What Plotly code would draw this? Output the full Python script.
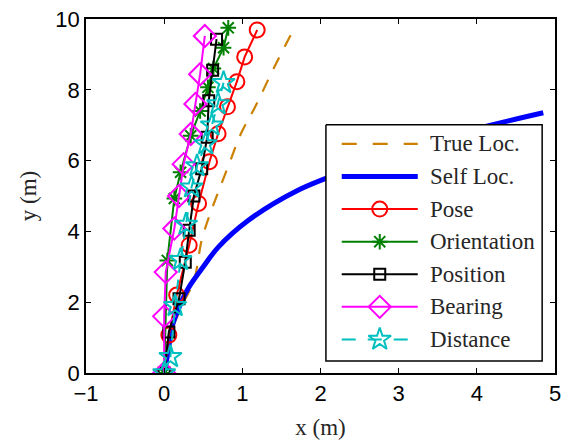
import plotly.graph_objects as go

# Ground truth trajectory
true_x = [0.0, 0.10, 0.25, 0.38, 0.48, 0.58, 0.69, 0.83, 0.98, 1.16, 1.40, 1.66]
true_y = [0.0, 1.20, 2.00, 2.60, 3.75, 4.45, 5.10, 5.90, 6.75, 7.50, 8.60, 9.72]

# Self-localisation estimate
self_x = [0.0, 0.05, 0.10, 0.20, 0.31, 0.50, 0.69, 1.07, 1.70, 2.50, 3.30, 4.00, 4.85]
self_y = [0.0, 0.60, 1.30, 1.90, 2.40, 3.00, 3.55, 4.30, 5.15, 5.85, 6.45, 6.90, 7.35]

# Cooperative estimates by measurement type
pose_x = [0.0, 0.06, 0.16, 0.32, 0.44, 0.58, 0.69, 0.81, 0.93, 1.03, 1.19]
pose_y = [0.0, 1.07, 2.20, 3.61, 4.79, 5.97, 6.76, 7.52, 8.23, 8.93, 9.69]

orient_x = [0.0, 0.04, 0.13, 0.21, 0.34, 0.46, 0.56, 0.63, 0.76, 0.82]
orient_y = [0.0, 3.18, 4.93, 5.67, 6.70, 7.40, 8.07, 8.60, 9.19, 9.75]

posn_x = [0.0, 0.06, 0.19, 0.27, 0.32, 0.38, 0.48, 0.55, 0.57, 0.62, 0.67]
posn_y = [0.0, 1.16, 2.10, 3.13, 4.03, 5.00, 5.77, 6.66, 7.69, 8.55, 9.43]

bear_x = [0.0, 0.0, 0.02, 0.13, 0.19, 0.25, 0.34, 0.40, 0.46, 0.52]
bear_y = [0.0, 1.60, 2.85, 4.08, 5.00, 5.90, 6.75, 7.60, 8.44, 9.52]

dist_x = [0.0, 0.08, 0.14, 0.21, 0.28, 0.35, 0.42, 0.53, 0.61, 0.69, 0.76]
dist_y = [0.0, 0.46, 1.90, 3.20, 4.20, 5.25, 5.85, 6.47, 7.00, 7.60, 8.20]

x_ticks = [-1, 0, 1, 2, 3, 4, 5]
y_ticks = [0, 2, 4, 6, 8, 10]

# Plot area in pixels (figure 568 x 447)
W, H = 568, 447
L, R, T, B = 86, 7, 18, 74
PW, PH = W - L - R, H - T - B


def fx(px):
    return (px - L) / PW


def fy(py):
    return (H - B - py) / PH


# (name, x, y, colour, line width, dash, marker symbol, marker size)
series = [
    ("True Loc.", true_x, true_y, "#CC8000", 2.2, "13px,12px", None, 0),
    ("Self Loc.", self_x, self_y, "#0000FF", 5, "solid", None, 0),
    ("Pose", pose_x, pose_y, "#FF0000", 2, "solid", "circle-open", 15),
    ("Orientation", orient_x, orient_y, "#008000", 2, "solid", "asterisk-open", 13),
    ("Position", posn_x, posn_y, "#000000", 2, "solid", "square-open", 11),
    ("Bearing", bear_x, bear_y, "#FF00FF", 2, "solid", "diamond-open", 17),
    ("Distance", dist_x, dist_y, "#00BFBF", 2, "10px,7px", "star-open", 17),
]

fig = go.Figure()

for name, xs, ys, col, lw, dash, sym, size in series:
    if sym is None:
        fig.add_trace(go.Scatter(x=xs, y=ys, mode="lines", name=name, showlegend=False,
                                 line=dict(color=col, width=lw, dash=dash),
                                 line_shape="spline"))
    else:
        fig.add_trace(go.Scatter(
            x=xs, y=ys, mode="lines+markers", name=name, showlegend=False,
            line=dict(color=col, width=lw, dash=dash),
            marker=dict(symbol=sym, size=size, color=col, line=dict(color=col, width=2))))

# Legend drawn on an overlay axis spanning the plot area in [0, 1] units
box_l, box_r, box_t, box_b = 329, 548, 124, 361
fig.add_trace(go.Scatter(
    x=[fx(box_l), fx(box_r), fx(box_r), fx(box_l), fx(box_l)],
    y=[fy(box_t), fy(box_t), fy(box_b), fy(box_b), fy(box_t)],
    mode="lines", fill="toself", fillcolor="white",
    line=dict(color="black", width=1.5), xaxis="x2", yaxis="y2",
    showlegend=False, hoverinfo="skip"))

row0, row_step = 143.3, 32.67
line_l, line_r, text_x = 345, 422, 432
annotations = []
for i, (name, xs, ys, col, lw, dash, sym, size) in enumerate(series):
    ry = fy(row0 + i * row_step)
    legend_dash = "15px,16px" if name == "True Loc." else ("14px,12px" if name == "Distance" else dash)
    fig.add_trace(go.Scatter(
        x=[fx(line_l), fx(line_r)], y=[ry, ry], mode="lines",
        line=dict(color=col, width=lw, dash=legend_dash),
        xaxis="x2", yaxis="y2", showlegend=False, hoverinfo="skip"))
    if sym is not None:
        fig.add_trace(go.Scatter(
            x=[fx((line_l + line_r) / 2)], y=[ry], mode="markers",
            marker=dict(symbol=sym, size=size, color=col, line=dict(color=col, width=2)),
            xaxis="x2", yaxis="y2", showlegend=False, hoverinfo="skip"))
    annotations.append(dict(
        x=fx(text_x), y=ry, xref="paper", yref="paper", text=name, showarrow=False,
        xanchor="left", yanchor="middle",
        font=dict(family="Liberation Serif, Times New Roman", size=23, color="#262626")))

axis_common = dict(showline=True, linecolor="black", linewidth=1.5, mirror="allticks",
                   ticks="inside", ticklen=5, tickwidth=1, tickcolor="black",
                   showgrid=False, zeroline=False,
                   tickfont=dict(family="Liberation Sans, Arial", size=22, color="black"))

fig.update_layout(
    width=W, height=H,
    margin=dict(l=L, r=R, t=T, b=B),
    paper_bgcolor="white", plot_bgcolor="white",
    showlegend=False,
    annotations=annotations,
    xaxis=dict(range=[-1, 5], tickvals=x_ticks, **axis_common,
               title=dict(text="x (m)", standoff=14,
                          font=dict(family="Liberation Serif", size=23, color="#262626"))),
    yaxis=dict(range=[0, 10], tickvals=y_ticks, **axis_common,
               title=dict(text="y (m)", standoff=12,
                          font=dict(family="Liberation Serif", size=23, color="#262626"))),
    xaxis2=dict(range=[0, 1], overlaying="x", visible=False, fixedrange=True),
    yaxis2=dict(range=[0, 1], overlaying="y", visible=False, fixedrange=True),
)

fig.write_html("out.html")
